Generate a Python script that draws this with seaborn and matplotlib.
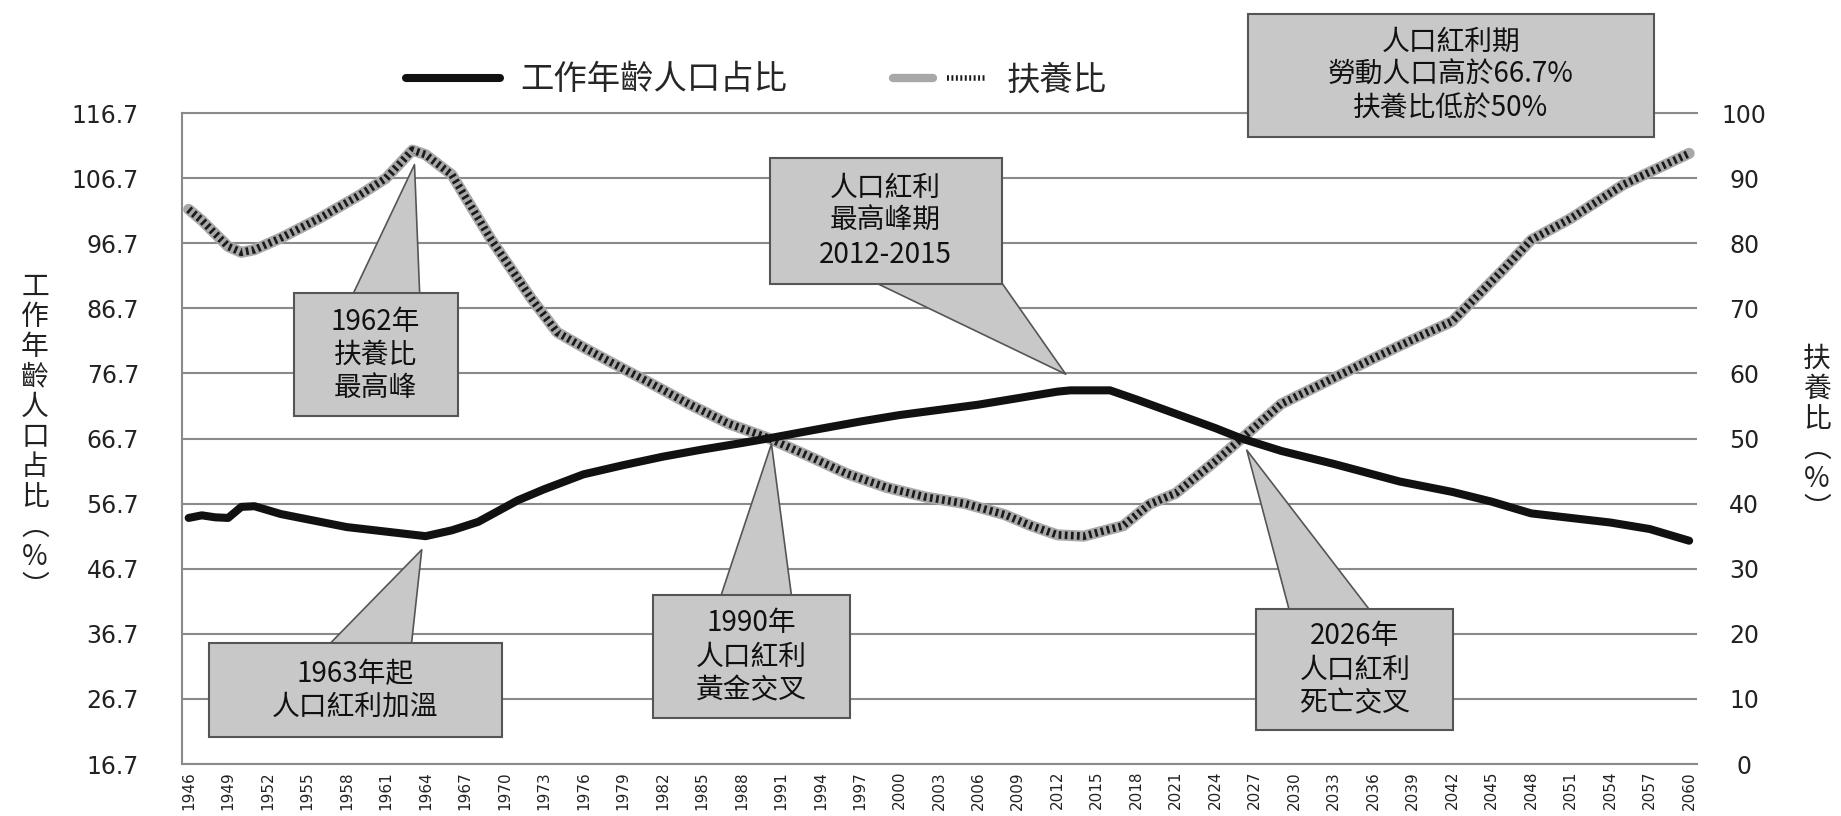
import matplotlib
matplotlib.use("Agg")
import matplotlib.pyplot as plt
import pandas as pd
import seaborn as sns
from matplotlib.lines import Line2D
from matplotlib.legend_handler import HandlerTuple
from matplotlib.path import Path

# working-age population share (left axis, %)
years_work = [1946, 1947, 1948, 1949, 1950, 1951, 1953, 1955, 1958, 1961, 1964, 1966,
              1968, 1971, 1973, 1976, 1979, 1982, 1985, 1988, 1990, 1994, 1997, 2000,
              2003, 2006, 2009, 2012, 2013, 2016, 2018, 2021, 2024, 2026, 2029, 2033,
              2038, 2042, 2045, 2048, 2051, 2054, 2057, 2060]
work_share = [54.5, 54.9, 54.6, 54.5, 56.2, 56.3, 55.1, 54.3, 53.1, 52.4, 51.7, 52.6,
              53.9, 57.2, 58.9, 61.2, 62.6, 63.9, 65.0, 66.0, 66.7, 68.2, 69.3, 70.3,
              71.1, 71.9, 72.9, 73.9, 74.1, 74.1, 72.7, 70.5, 68.3, 66.7, 64.8, 62.8,
              60.1, 58.5, 57.0, 55.2, 54.5, 53.8, 52.8, 51.0]

# dependency ratio (right axis, %)
years_dep = [1946, 1947, 1948, 1949, 1950, 1951, 1953, 1956, 1959, 1961, 1963, 1964,
             1966, 1969, 1972, 1974, 1976, 1978, 1981, 1984, 1987, 1990, 1993, 1996,
             1999, 2002, 2005, 2008, 2010, 2012, 2014, 2017, 2019, 2021, 2024, 2026,
             2029, 2033, 2036, 2039, 2042, 2046, 2048, 2051, 2055, 2060]
dep_ratio = [85.2, 83.5, 81.5, 79.5, 78.6, 79.0, 80.8, 83.9, 87.4, 90.0, 94.3, 93.6,
             90.5, 80.5, 71.6, 66.3, 64.0, 61.8, 58.6, 55.3, 52.3, 50.1, 47.4, 44.6,
             42.5, 41.0, 40.0, 38.3, 36.6, 35.2, 35.0, 36.6, 39.9, 41.6, 46.5, 50.0,
             55.3, 59.3, 62.3, 65.2, 68.0, 76.2, 80.5, 83.8, 89.0, 93.8]

left_ticks = [16.7, 26.7, 36.7, 46.7, 56.7, 66.7, 76.7, 86.7, 96.7, 106.7, 116.7]
right_ticks = [0, 10, 20, 30, 40, 50, 60, 70, 80, 90, 100]
x_ticks = list(range(1946, 2061, 3))

series_names = ["工作年齡人口占比", "扶養比"]

CJK = ["Noto Sans CJK TC", "DejaVu Sans"]
sns.set_style("white")
plt.rcParams["font.family"] = CJK

GRID = "#8a8a8a"
BOX_FC = "#c8c8c8"
BOX_EC = "#555555"
ROPE_BASE = "#a8a8a8"
ROPE = (0, (0.35, 0.45))


def fixed_box(w, h):
    # rectangle of fixed pixel size, centred on the text
    def style(x0, y0, width, height, mutation_size):
        cx, cy = x0 + width / 2, y0 + height / 2
        return Path([(cx - w / 2, cy - h / 2), (cx + w / 2, cy - h / 2),
                     (cx + w / 2, cy + h / 2), (cx - w / 2, cy + h / 2),
                     (cx - w / 2, cy - h / 2)], closed=True)
    return style


fig = plt.figure(figsize=(18.41, 8.16), dpi=100)
ax = fig.add_axes([0.0989, 0.0637, 0.8229, 0.7978])
ax2 = ax.twinx()

work_df = pd.DataFrame({"year": years_work, "share": work_share})
dep_df = pd.DataFrame({"year": years_dep, "ratio": dep_ratio})

sns.lineplot(data=dep_df, x="year", y="ratio", ax=ax2, color=ROPE_BASE, lw=8)
sns.lineplot(data=dep_df, x="year", y="ratio", ax=ax2, color="#1a1a1a", lw=5.5,
             linestyle=ROPE)
sns.lineplot(data=work_df, x="year", y="share", ax=ax, color="#111111", lw=5.8)

ax.set_zorder(ax2.get_zorder() + 1)
ax.patch.set_visible(False)

ax.set_xlim(1945.5, 2060.6)
ax.set_ylim(16.7, 116.7)
ax2.set_ylim(0, 100)
ax.set_xlabel("")
ax.set_ylabel("")
ax2.set_ylabel("")

ax.set_yticks(left_ticks)
ax.set_yticklabels([f"{v:.1f}" for v in left_ticks], family="DejaVu Sans")
ax2.set_yticks(right_ticks)
ax2.set_yticklabels([str(v) for v in right_ticks], family="DejaVu Sans")
ax.set_xticks(x_ticks)
ax.set_xticklabels([str(v) for v in x_ticks], rotation=90, family="DejaVu Sans")

ax.tick_params(axis="y", length=0, pad=31, labelsize=17, labelcolor="#222222")
ax.tick_params(axis="x", length=0, pad=5, labelsize=11, labelcolor="#222222")
ax2.tick_params(axis="y", length=0, pad=34, labelsize=17, labelcolor="#222222")
for t in ax2.yaxis.get_major_ticks():
    t.label2.set_horizontalalignment("center")

ax.grid(False)
ax2.grid(False)
ax2.yaxis.grid(True, color=GRID, lw=1.5)
for s in ["left", "top", "bottom"]:
    ax.spines[s].set_color(GRID)
    ax.spines[s].set_linewidth(1.5)
ax.spines["right"].set_visible(False)
for s in ax2.spines.values():
    s.set_visible(False)

# legend
h1 = Line2D([], [], color="#111111", lw=5.8)
h2a = Line2D([], [], color=ROPE_BASE, lw=6)
h2b = Line2D([], [], color="#1a1a1a", lw=4, linestyle=ROPE)
fig.legend([h1, (h2a, h2b)], series_names,
           handler_map={tuple: HandlerTuple(ndivide=None)},
           loc="center", bbox_to_anchor=(0.411, 0.902), ncol=2, frameon=False,
           fontsize=24, handlelength=2.8, handletextpad=0.6, columnspacing=3.2)

# axis titles, stacked vertically
fig.text(0.019, 0.465, "\n".join(list("工作年齡人口占比") + ["︵", "%", "︶"]),
         ha="center", va="center", fontsize=20, linespacing=1.0, color="#222222")
fig.text(0.987, 0.468, "\n".join(list("扶養比") + ["︵", "%", "︶"]),
         ha="center", va="center", fontsize=20, linespacing=1.0, color="#222222")

# callouts: text, target (year, left-axis value), box centre (figure fraction),
# box size px, wedge width
callouts = [
    ("1962年\n扶養比\n最高峰", (1963.2, 109.2), (0.204, 0.565), (164, 123), 3.4),
    ("1963年起\n人口紅利加溫", (1963.8, 50.0), (0.193, 0.154), (293, 94), 3.8),
    ("人口紅利\n最高峰期\n2012-2015", (2012.8, 76.3), (0.481, 0.729), (232, 126), 4.4),
    ("1990年\n人口紅利\n黃金交叉", (1990.3, 66.3), (0.408, 0.195), (197, 123), 3.5),
    ("2026年\n人口紅利\n死亡交叉", (2026.3, 65.3), (0.736, 0.179), (197, 121), 3.5),
]
for text, target, centre, size, tail in callouts:
    ax.annotate(text, xy=target, xycoords="data", xytext=centre,
                textcoords="figure fraction", ha="center", va="center",
                fontsize=20, linespacing=1.15, color="#111111",
                bbox=dict(boxstyle=fixed_box(*size), fc=BOX_FC, ec=BOX_EC, lw=1.5),
                arrowprops=dict(arrowstyle=f"wedge,tail_width={tail},shrink_factor=0.5",
                                fc=BOX_FC, ec=BOX_EC, lw=1.2, patchA=None),
                annotation_clip=False, zorder=10)

fig.text(0.788, 0.908, "人口紅利期\n勞動人口高於66.7%\n扶養比低於50%",
         ha="center", va="center", fontsize=20, linespacing=1.15, color="#111111",
         bbox=dict(boxstyle=fixed_box(406, 123), fc=BOX_FC, ec=BOX_EC, lw=1.5),
         zorder=10)

fig.savefig("out.png", dpi=100)
